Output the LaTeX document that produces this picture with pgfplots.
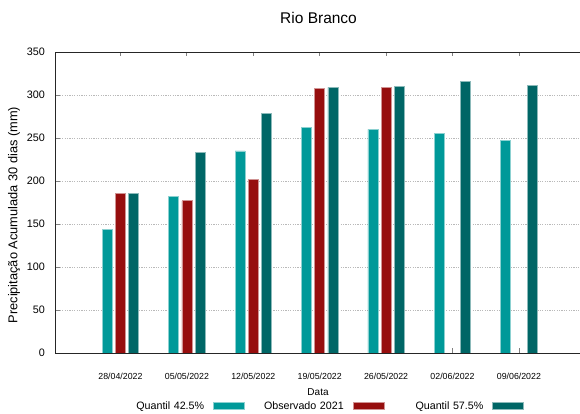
\documentclass[border=0pt]{standalone}
\usepackage{pgfplots}
\pgfplotsset{compat=1.18}
\usepackage{fontspec}
\setmainfont{Liberation Sans}
\definecolor{qlow}{RGB}{0,153,153}
\definecolor{obs}{RGB}{150,14,14}
\definecolor{qhigh}{RGB}{0,102,102}
\pgfplotsset{myleg/.style={legend image code/.code={\fill[##1] (0pt,-3.6pt) rectangle (31pt,3.6pt);}}}
\begin{document}
\begin{tikzpicture}
\useasboundingbox (0,0) rectangle (580pt,414pt);
\begin{axis}[
  at={(55pt,61pt)}, anchor=south west,
  scale only axis, width=525pt, height=301pt,
  xmin=-0.986, xmax=6.92, ymin=0, ymax=350,
  ybar, bar width=10pt,
  axis y line*=left, axis x line*=box,
  axis line style={black!85, line width=0.8pt},
  tick align=inside, major tick length=4.5pt,
  tick style={gray, line width=0.8pt},
  xtick={0,...,6},
  xticklabels={28/04/2022,05/05/2022,12/05/2022,19/05/2022,26/05/2022,02/06/2022,09/06/2022},
  ytick={0,50,...,350},
  ymajorgrids, grid style={gray!55, line width=0.8pt, dash pattern=on 1.2pt off 1.2pt},
  /pgf/number format/assume math mode=true,
  xticklabel style={anchor=center, yshift=-23.7pt, font=\fontsize{8.8}{10}\selectfont},
  yticklabel style={anchor=east, inner sep=2pt, xshift=-8pt, font=\fontsize{10.8}{12}\selectfont},
  every axis title shift=0pt,
  title={Rio Branco},
  title style={at={(axis description cs:0.502,1.114)}, anchor=center, inner sep=0pt, font=\fontsize{15.5}{18}\selectfont},
  xlabel={Data},
  xlabel style={at={(axis description cs:0.501,-0.13)}, anchor=center, inner sep=0pt, font=\fontsize{10}{12}\selectfont},
  ylabel={Precipitação Acumulada 30 dias (mm)},
  ylabel style={at={(axis description cs:-0.078,0.458)}, anchor=center, inner sep=0pt, font=\fontsize{12.8}{14}\selectfont},
  legend columns=3,
  legend style={at={(axis description cs:0.118,-0.176)}, anchor=west, draw=none, fill=none, inner sep=0pt,
    legend plot pos=right,
    nodes={text width=85pt, align=right, inner sep=2pt, font=\fontsize{10.7}{12}\selectfont},
    /tikz/every odd column/.append style={column sep=7pt},
    /tikz/every even column/.append style={column sep=12pt}},
]
\addplot[fill=qlow, draw=qlow!45!white, line width=0.6pt, bar shift=-13.2pt, myleg] coordinates {
(0,144) (1,182) (2,235) (3,262) (4,260) (5,255) (6,247)};
\addlegendentry{Quantil 42.5\%}
\addplot[fill=obs, draw=obs!45!white, line width=0.6pt, bar shift=0pt, myleg] coordinates {
(0,186) (1,177) (2,202) (3,308) (4,309)};
\addlegendentry{Observado 2021}
\addplot[fill=qhigh, draw=qhigh!45!white, line width=0.6pt, bar shift=13.2pt, myleg] coordinates {
(0,186) (1,233) (2,279) (3,309) (4,310) (5,316) (6,311)};
\addlegendentry{Quantil 57.5\%}
\end{axis}
\end{tikzpicture}
\end{document}
